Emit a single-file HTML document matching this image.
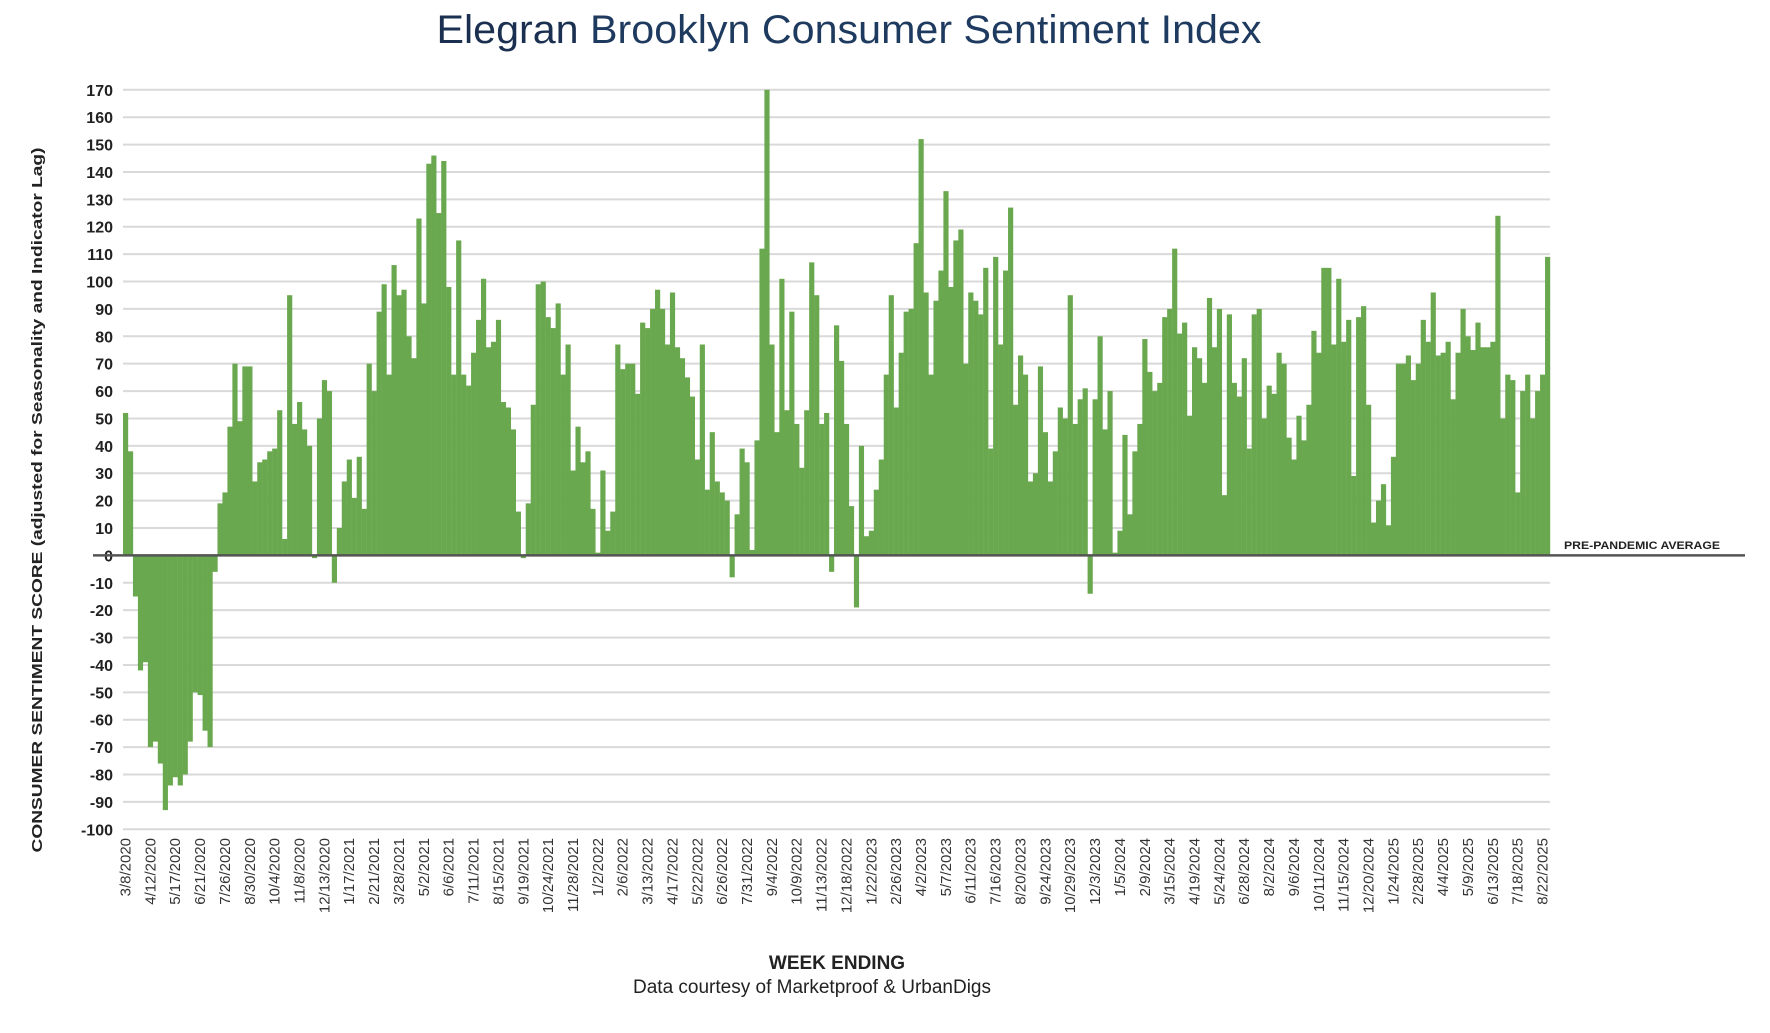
<!DOCTYPE html>
<html>
<head>
<meta charset="utf-8">
<style>
  html, body { margin:0; padding:0; background:#fff; }
  body { width:1770px; height:1028px; overflow:hidden; font-family:"Liberation Sans", Arial, sans-serif; }
  svg text { font-family:"Liberation Sans", Arial, sans-serif; }
</style>
</head>
<body>
<svg id="chart" width="1770" height="1028" viewBox="0 0 1770 1028" xmlns="http://www.w3.org/2000/svg">
  <text x="849" y="43" text-anchor="middle" font-size="40" fill="#1f3a5f" textLength="825" lengthAdjust="spacingAndGlyphs"><tspan fill="#1b3050">Elegran</tspan> Brooklyn Consumer Sentiment Index</text>
  <g id="grid"></g>
  <g id="yticks"></g>
  <g id="bars"></g>
  <g id="xticks"></g>
  <line id="zero" stroke="#555" stroke-width="2.5"></line>
  <text x="1564" y="549" font-size="11" font-weight="bold" fill="#222" textLength="156" lengthAdjust="spacingAndGlyphs">PRE-PANDEMIC AVERAGE</text>
  <text transform="translate(42,500) rotate(-90)" text-anchor="middle" font-size="15" font-weight="bold" fill="#222" textLength="705" lengthAdjust="spacingAndGlyphs">CONSUMER SENTIMENT SCORE (adjusted for Seasonality and Indicator Lag)</text>
  <text x="837" y="969" text-anchor="middle" font-size="19" font-weight="bold" fill="#222">WEEK ENDING</text>
  <text x="812" y="993" text-anchor="middle" font-size="19" fill="#222">Data courtesy of Marketproof &amp; UrbanDigs</text>
</svg>
<script>
const values = [
52,38,-15,-42,-39,-70,-68,-76,-93,-84,-81,-84,-80,-68,-50,-51,-64,-70,-6,19,23,47,70,49,69,69,27,34,35,38,39,53,6,95,48,56,46,40,-1,50,64,60,-10,10,27,35,21,36,17,70,60,89,99,66,106,95,97,80,72,
123,92,143,146,125,144,98,66,115,66,62,74,86,101,76,78,86,56,54,46,16,-1,19,55,99,100,87,83,92,66,77,31,47,34,38,17,1,31,9,16,77,68,70,70,59,85,83,90,97,90,77,96,76,72,65,58,35,77,24,45,
27,23,20,-8,15,39,34,2,42,112,170,77,45,101,53,89,48,32,53,107,95,48,52,-6,84,71,48,18,-19,40,7,9,24,35,66,95,54,74,89,90,114,152,96,66,93,104,133,98,115,119,70,96,93,88,105,39,109,77,104,127,
55,73,66,27,30,69,45,27,38,54,50,95,48,57,61,-14,57,80,46,60,1,9,44,15,38,48,79,67,60,63,87,90,112,81,85,51,76,72,63,94,76,90,22,88,63,58,72,39,88,90,50,62,59,74,70,43,35,51,42,55,82,
74,105,105,77,101,78,86,29,87,91,55,12,20,26,11,36,70,70,73,64,70,86,78,96,73,74,78,57,74,90,80,75,85,76,76,78,124,50,66,64,23,60,66,50,60,66,109
];
const xLabels = ["3/8/2020","4/12/2020","5/17/2020","6/21/2020","7/26/2020","8/30/2020","10/4/2020","11/8/2020","12/13/2020","1/17/2021","2/21/2021","3/28/2021","5/2/2021","6/6/2021","7/11/2021","8/15/2021","9/19/2021","10/24/2021","11/28/2021","1/2/2022","2/6/2022","3/13/2022","4/17/2022","5/22/2022","6/26/2022","7/31/2022","9/4/2022","10/9/2022","11/13/2022","12/18/2022","1/22/2023","2/26/2023","4/2/2023","5/7/2023","6/11/2023","7/16/2023","8/20/2023","9/24/2023","10/29/2023","12/3/2023","1/5/2024","2/9/2024","3/15/2024","4/19/2024","5/24/2024","6/28/2024","8/2/2024","9/6/2024","10/11/2024","11/15/2024","12/20/2024","1/24/2025","2/28/2025","4/4/2025","5/9/2025","6/13/2025","7/18/2025","8/22/2025"];
const yTicks = [170,160,150,140,130,120,110,100,90,80,70,60,50,40,30,20,10,0,-10,-20,-30,-40,-50,-60,-70,-80,-90,-100];
const labelStep = 5;

const NS = "http://www.w3.org/2000/svg";
const X0 = 123, X1 = 1550, YTOP = 89.8, YZERO = 555.4;
const pxPerUnit = (YZERO - YTOP) / 170;
function y(v){ return YZERO - v * pxPerUnit; }
const bw = (X1 - X0) / values.length;
function x(i){ return X0 + i * bw; }

const grid = document.getElementById('grid');
const yt = document.getElementById('yticks');
yTicks.forEach(t => {
  const l = document.createElementNS(NS,'line');
  
  
  l.setAttribute('x1', X0); l.setAttribute('x2', X1);
  l.setAttribute('y1', y(t)); l.setAttribute('y2', y(t));
  l.setAttribute('stroke', '#d9d9d9'); l.setAttribute('stroke-width', '2');
  grid.appendChild(l);
  const tx = document.createElementNS(NS,'text');
  
  
  tx.setAttribute('x', 113); tx.setAttribute('y', y(t) + 6);
  tx.setAttribute('text-anchor', 'end');
  tx.setAttribute('font-size', '16'); tx.setAttribute('font-weight', 'bold'); tx.setAttribute('fill', '#222');
  tx.textContent = t;
  yt.appendChild(tx);
});

const bars = document.getElementById('bars');
values.forEach((v, i) => {
  const r = document.createElementNS(NS,'rect');
  
  
  r.setAttribute('x', x(i));
  r.setAttribute('width', bw + 0.2);
  r.setAttribute('y', Math.min(y(v), YZERO));
  r.setAttribute('height', Math.abs(y(v) - YZERO));
  r.setAttribute('fill', '#6aa84f');
  bars.appendChild(r);
});

const xt = document.getElementById('xticks');
xLabels.forEach((lab, k) => {
  const cx = x(k * labelStep) + bw / 2 + 5;
  const tx = document.createElementNS(NS,'text');
  
  
  tx.setAttribute('transform', 'translate(' + cx + ',838) rotate(-90)');
  tx.setAttribute('text-anchor', 'end');
  tx.setAttribute('font-size', '15'); tx.setAttribute('fill', '#333');
  tx.textContent = lab;
  xt.appendChild(tx);
});

const z = document.getElementById('zero');
z.setAttribute('x1', X0 - 30); z.setAttribute('x2', 1745);
z.setAttribute('y1', YZERO); z.setAttribute('y2', YZERO);
</script>
</body>
</html>
